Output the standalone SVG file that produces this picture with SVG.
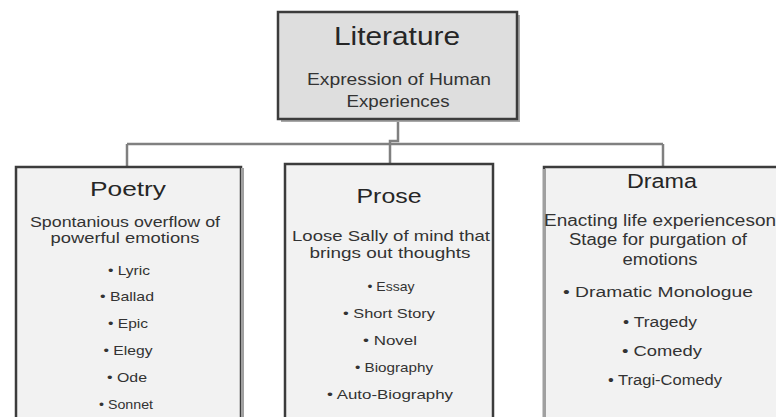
<svg xmlns="http://www.w3.org/2000/svg" width="776" height="417" viewBox="0 0 776 417">
<style>
  text { font-family: "Liberation Sans", Arial, sans-serif; fill: #262626; text-anchor: middle; }
  .t { font-size: 21px; }
  .s { font-size: 15px; fill: #333; }
  .i { font-size: 13px; fill: #333; }
  .box { fill: #f2f2f2; stroke: #3c3c3c; stroke-width: 2.5; }
  .shade { stroke: #a0a0a0; stroke-width: 3; fill: none; }
  .conn { stroke: #808080; stroke-width: 2.5; fill: none; }
</style>
<rect width="776" height="417" fill="#ffffff"/>
<g id="connectors">
  <path class="conn" d="M127 144 H663"/>
  <path class="conn" d="M127 144 V167"/>
  <path class="conn" d="M663 144 V167"/>
  <path class="conn" d="M398 120 V141 H390 V164"/>
</g>
<g id="literature">
  <rect x="281" y="15" width="239" height="107" fill="#a8a8a8"/>
  <rect x="278" y="12" width="239" height="107" fill="#dedede" stroke="#3c3c3c" stroke-width="2.5"/>
  <text x="397" y="45" style="font-size:25px" textLength="126" lengthAdjust="spacingAndGlyphs">Literature</text>
  <text x="399" y="85" style="font-size:16px;fill:#333" textLength="184" lengthAdjust="spacingAndGlyphs">Expression of Human</text>
  <text x="398" y="107" style="font-size:16px;fill:#333" textLength="103" lengthAdjust="spacingAndGlyphs">Experiences</text>
</g>
<g id="poetry">
  <rect class="box" x="16" y="167" width="225" height="260"/>
  <path class="shade" d="M242.5 168 V417"/>
  <text class="t" x="128" y="196" textLength="76" lengthAdjust="spacingAndGlyphs">Poetry</text>
  <text class="s" x="125" y="227" style="font-size:14px" textLength="190" lengthAdjust="spacingAndGlyphs">Spontanious overflow of</text>
  <text class="s" x="125" y="243" style="font-size:14px" textLength="149" lengthAdjust="spacingAndGlyphs">powerful emotions</text>
  <text class="i" x="129" y="275" textLength="42" lengthAdjust="spacingAndGlyphs">• Lyric</text>
  <text class="i" x="127" y="301" textLength="54" lengthAdjust="spacingAndGlyphs">• Ballad</text>
  <text class="i" x="128" y="328" textLength="40" lengthAdjust="spacingAndGlyphs">• Epic</text>
  <text class="i" x="128" y="355" textLength="49" lengthAdjust="spacingAndGlyphs">• Elegy</text>
  <text class="i" x="127" y="382" textLength="40" lengthAdjust="spacingAndGlyphs">• Ode</text>
  <text class="i" x="126" y="409" textLength="54" lengthAdjust="spacingAndGlyphs">• Sonnet</text>
</g>
<g id="prose">
  <rect class="box" x="285" y="164" width="208" height="263"/>
  <text class="t" x="389" y="203" textLength="65" lengthAdjust="spacingAndGlyphs">Prose</text>
  <text class="s" x="391" y="241" textLength="198" lengthAdjust="spacingAndGlyphs">Loose Sally of mind that</text>
  <text class="s" x="390" y="258" textLength="161" lengthAdjust="spacingAndGlyphs">brings out thoughts</text>
  <text class="i" x="391" y="291" textLength="47" lengthAdjust="spacingAndGlyphs">• Essay</text>
  <text class="i" x="389" y="318" textLength="92" lengthAdjust="spacingAndGlyphs">• Short Story</text>
  <text class="i" x="390" y="345" textLength="54" lengthAdjust="spacingAndGlyphs">• Novel</text>
  <text class="i" x="394" y="372" textLength="78" lengthAdjust="spacingAndGlyphs">• Biography</text>
  <text class="i" x="390" y="399" textLength="126" lengthAdjust="spacingAndGlyphs">• Auto-Biography</text>
</g>
<g id="drama">
  <rect class="box" x="544" y="167" width="250" height="260"/>
  <path class="shade" d="M544.5 169 V417"/>
  <text class="t" x="662" y="188" style="font-size:20px" textLength="70" lengthAdjust="spacingAndGlyphs">Drama</text>
  <text class="s" x="660" y="226" style="font-size:16px" textLength="232" lengthAdjust="spacingAndGlyphs">Enacting life experienceson</text>
  <text class="s" x="658" y="245" style="font-size:16px" textLength="178" lengthAdjust="spacingAndGlyphs">Stage for purgation of</text>
  <text class="s" x="660" y="265" style="font-size:16px" textLength="75" lengthAdjust="spacingAndGlyphs">emotions</text>
  <text class="i" x="658" y="297" style="font-size:14px" textLength="190" lengthAdjust="spacingAndGlyphs">• Dramatic Monologue</text>
  <text class="i" x="660" y="327" style="font-size:14px" textLength="74" lengthAdjust="spacingAndGlyphs">• Tragedy</text>
  <text class="i" x="662" y="356" style="font-size:14px" textLength="80" lengthAdjust="spacingAndGlyphs">• Comedy</text>
  <text class="i" x="665" y="385" style="font-size:14px" textLength="114" lengthAdjust="spacingAndGlyphs">• Tragi-Comedy</text>
</g>
</svg>
